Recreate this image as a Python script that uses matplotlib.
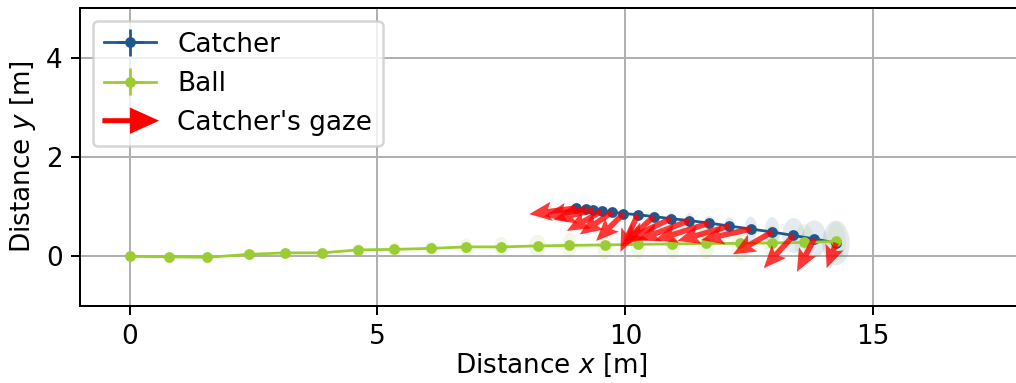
import numpy as np
import matplotlib
matplotlib.use("Agg")
import matplotlib.pyplot as plt
import matplotlib.patches as mpatches
from matplotlib.legend_handler import HandlerPatch
from matplotlib.patches import Ellipse

# ball trajectory (m) and the 1-sigma spread of each estimate
ball_x = [0.0, 0.79, 1.57, 2.40, 3.14, 3.89, 4.60, 5.34, 6.07, 6.79, 7.50,
          8.23, 8.87, 9.58, 10.26, 10.95, 11.63, 12.32, 12.96, 13.61, 14.25]
ball_y = [0.0, -0.01, -0.02, 0.04, 0.07, 0.07, 0.13, 0.14, 0.16, 0.19, 0.19,
          0.21, 0.22, 0.23, 0.24, 0.25, 0.26, 0.26, 0.27, 0.28, 0.30]
ball_w = [0.15, 0.2, 0.2, 0.25, 0.2, 0.2, 0.25, 0.25, 0.25, 0.25, 0.3,
          0.35, 0.3, 0.3, 0.3, 0.3, 0.35, 0.35, 0.35, 0.4, 0.4]
ball_h = [0.12, 0.15, 0.2, 0.2, 0.2, 0.2, 0.25, 0.3, 0.3, 0.35, 0.4,
          0.45, 0.5, 0.6, 0.6, 0.6, 0.65, 0.7, 0.7, 0.75, 0.8]

# catcher trajectory (m), spread, and projected gaze direction
catcher_x = [9.01, 9.21, 9.35, 9.52, 9.73, 9.96, 10.25, 10.57, 10.92, 11.29,
             11.69, 12.10, 12.53, 12.96, 13.39, 13.81, 14.25]
catcher_y = [0.97, 0.955, 0.935, 0.91, 0.89, 0.86, 0.84, 0.80, 0.76, 0.72,
             0.67, 0.61, 0.55, 0.49, 0.42, 0.35, 0.27]
catcher_w = [0.1, 0.1, 0.1, 0.1, 0.1, 0.1, 0.12, 0.12, 0.15, 0.15,
             0.2, 0.22, 0.25, 0.3, 0.45, 0.5, 0.55]
catcher_h = [0.1, 0.1, 0.1, 0.1, 0.1, 0.1, 0.15, 0.2, 0.25, 0.3,
             0.3, 0.35, 0.5, 0.6, 0.7, 0.75, 0.9]
gaze_u = [-0.95, -0.85, -0.8, -0.7, -0.65, -0.55, -0.35, -0.65, -0.95, -1.05,
          -1.1, -1.05, -1.0, -0.79, -0.60, -0.35, -0.19]
gaze_v = [-0.12, -0.15, -0.2, -0.4, -0.45, -0.55, -0.75, -0.6, -0.45, -0.4,
          -0.35, -0.3, -0.22, -0.45, -0.66, -0.66, -0.51]

CATCHER_C = "#20578c"
BALL_C = "#9acd32"

plt.rcParams["font.size"] = 10.5


class HandlerArrow(HandlerPatch):
    def create_artists(self, legend, orig_handle, xdescent, ydescent,
                       width, height, fontsize, trans):
        a = mpatches.FancyArrow(-xdescent, 0.5 * height - ydescent, width, 0,
                                width=1.0, head_width=9, head_length=10,
                                length_includes_head=True, color="red")
        a.set_transform(trans)
        return [a]


fig = plt.figure(figsize=(1016 / 180, 383 / 180), dpi=180)
ax = fig.add_axes([80 / 1016, 77 / 383, 942 / 1016, 298 / 383])

for x, y, w, h in zip(ball_x, ball_y, ball_w, ball_h):
    ax.add_patch(Ellipse((x, y), w, h, color=BALL_C, alpha=0.12, lw=0))
for x, y, w, h in zip(catcher_x, catcher_y, catcher_w, catcher_h):
    ax.add_patch(Ellipse((x, y), w, h, color=CATCHER_C, alpha=0.12, lw=0))

ax.errorbar(catcher_x, catcher_y, xerr=np.zeros(len(catcher_x)),
            yerr=np.zeros(len(catcher_x)), fmt="o-", color=CATCHER_C,
            lw=1.1, ms=3.3, label="Catcher", zorder=3)
ax.errorbar(ball_x, ball_y, xerr=np.zeros(len(ball_x)),
            yerr=np.zeros(len(ball_x)), fmt="o-", color=BALL_C,
            lw=1.1, ms=3.3, label="Ball", zorder=3)
ax.quiver(catcher_x, catcher_y, gaze_u, gaze_v, angles="xy",
          scale_units="xy", scale=1, color="red", alpha=0.78,
          width=0.006, headwidth=3.4, headlength=4, headaxislength=3.4,
          zorder=4)

handles, labels = ax.get_legend_handles_labels()
gaze_proxy = mpatches.FancyArrow(0, 0, 1, 0, color="red")
handles.append(gaze_proxy)
labels.append("Catcher's gaze")
ax.legend(handles, labels, loc="upper left",
          handler_map={mpatches.FancyArrow: HandlerArrow()})

ax.set_xlim(-1, 18)
ax.set_ylim(-1, 5)
ax.set_xticks([0, 5, 10, 15])
ax.set_yticks([0, 2, 4])
ax.grid(True)
ax.set_axisbelow(True)
ax.set_xlabel("Distance $x$ [m]", labelpad=1)
ax.set_ylabel("Distance $y$ [m]", labelpad=3)

fig.savefig("out.png", dpi=180)
